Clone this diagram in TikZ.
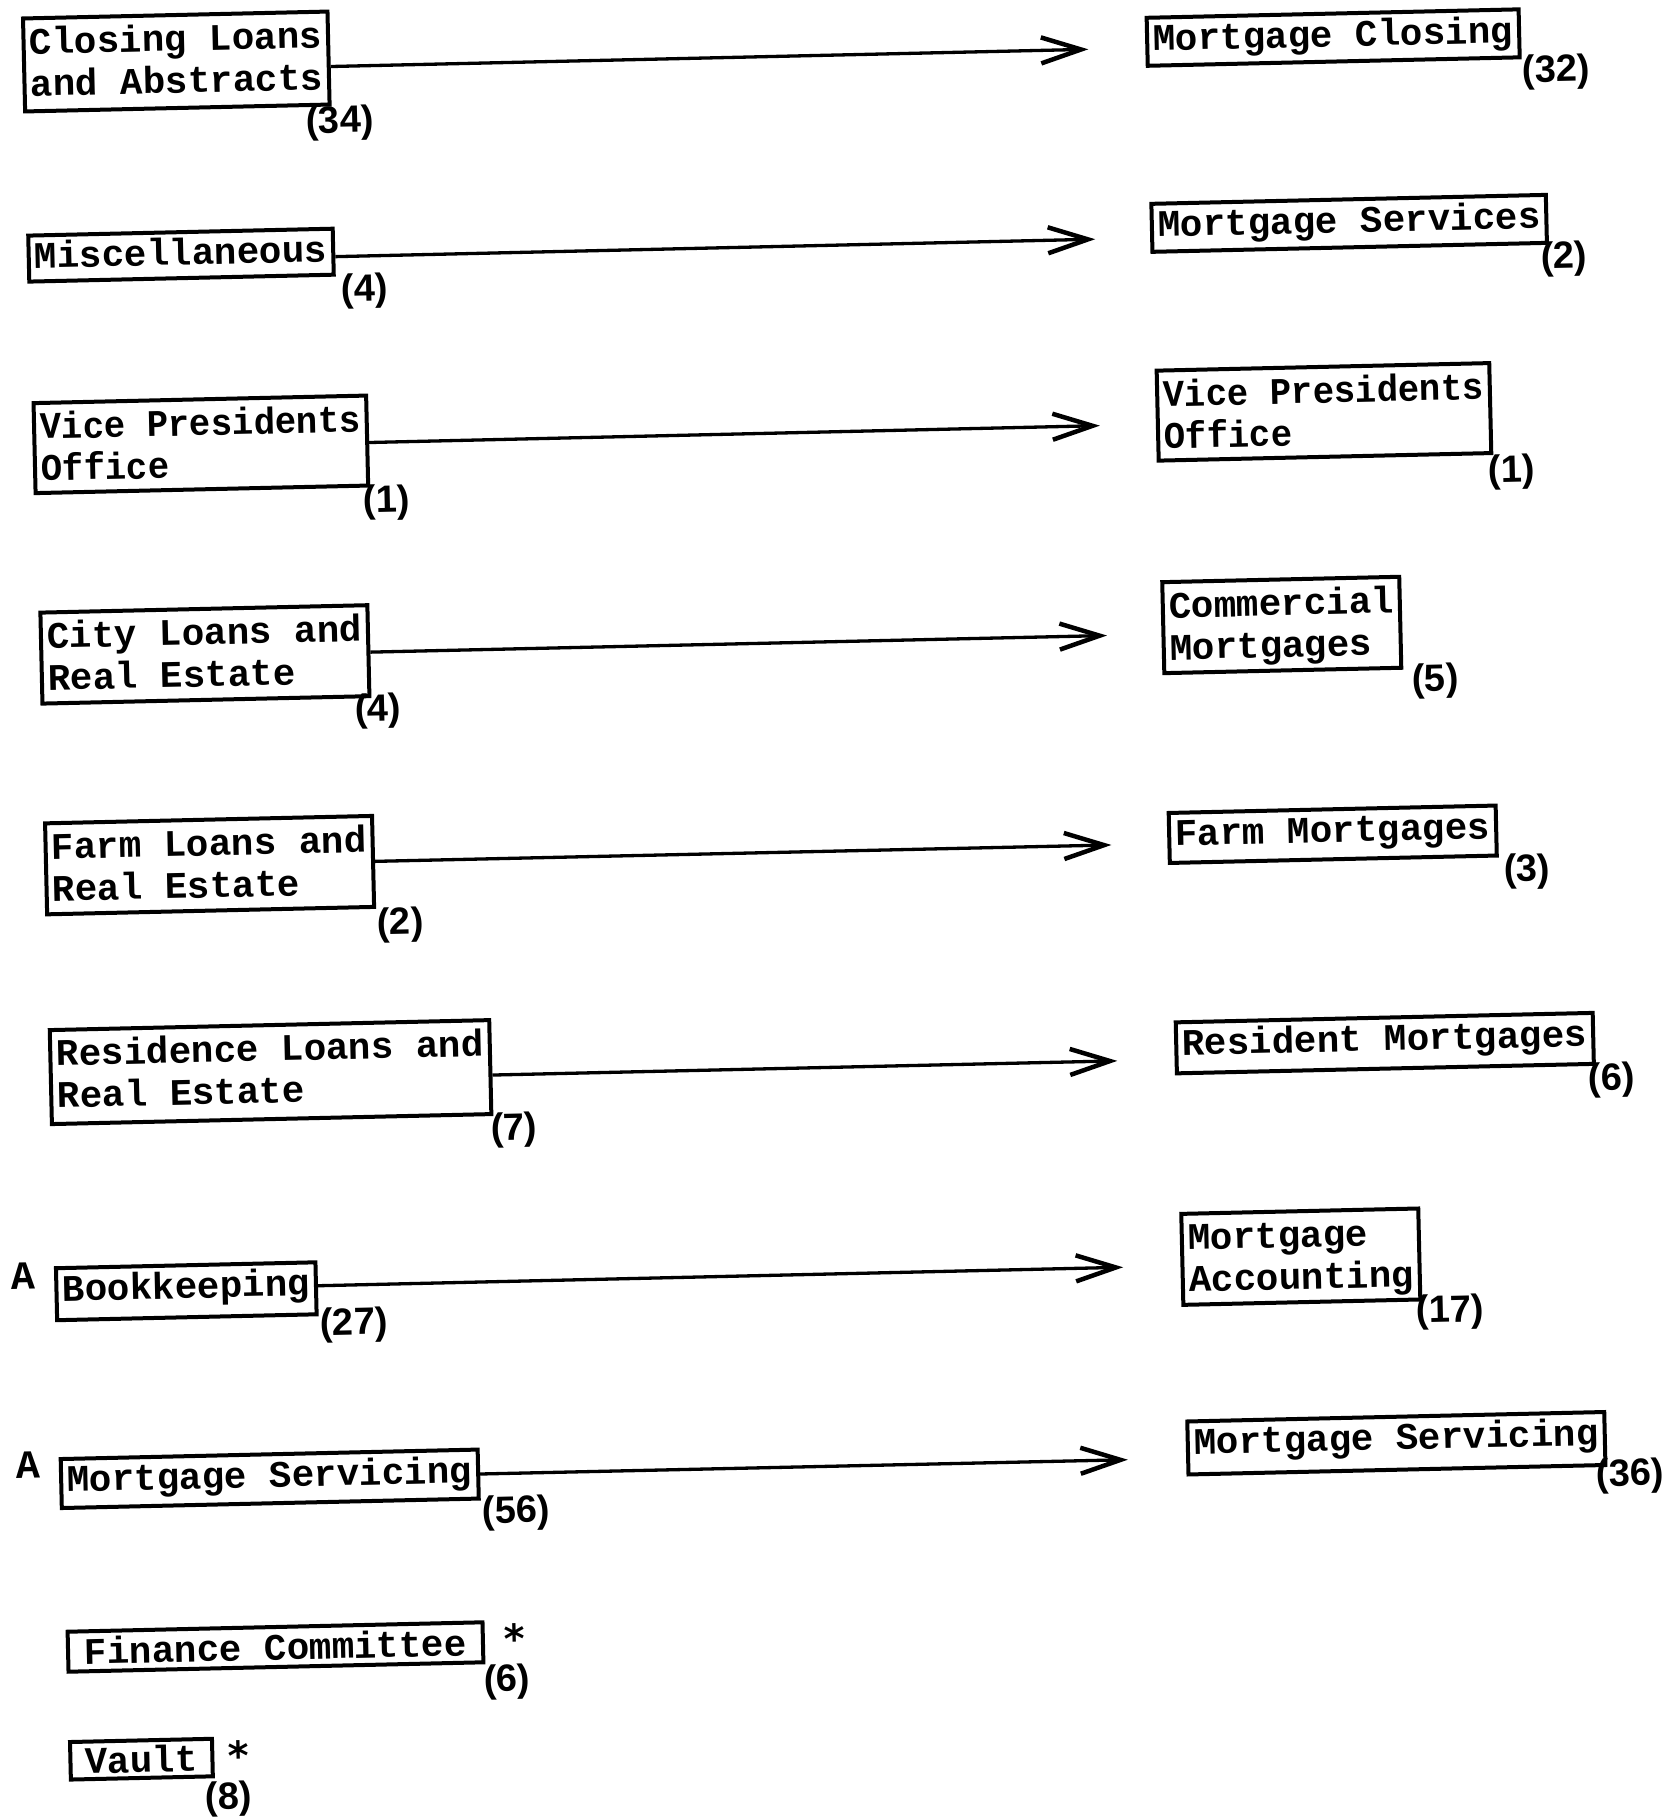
\documentclass[tikz,border=0pt]{standalone}
\usepackage{fontspec}
\usetikzlibrary{arrows.meta,calc}
\newfontfamily\twfont{Liberation Mono}
\newfontfamily\twnarrow{Liberation Mono}[FakeStretch=0.95]
\newfontfamily\numfont{Liberation Sans}
\newfontfamily\starfont{DejaVu Sans}
% struts that fix the inner height and depth of the typed boxes
\newcommand\upstr{\rule{0pt}{28pt}}
\newcommand\upstrb{\rule{0pt}{31pt}}
\newcommand\dnstr[1]{\rule[-#1pt]{0pt}{#1pt}}
% asterisk in a box as tall as the glyph itself
\newcommand\tightstar{\raisebox{-13pt}[17pt][0pt]{*}}

\tikzset{
  unitbox/.style={draw, line width=4pt,
    font=\twfont\bfseries\fontsize{37.5}{42}\selectfont,
    align=left, inner xsep=6pt, inner ysep=5pt, anchor=west},
  narrowbox/.style={unitbox, font=\twnarrow\bfseries\fontsize{37.5}{42}\selectfont},
  count/.style={font=\numfont\bfseries\fontsize{38}{40}\selectfont, inner sep=0pt},
  flagA/.style={font=\twfont\bfseries\fontsize{40}{42}\selectfont, inner sep=0pt},
  starsign/.style={font=\starfont\bfseries\fontsize{40}{42}\selectfont, inner sep=0pt, anchor=north},
  flow/.style={line width=3.3pt,
    -{Straight Barb[length=40pt,width=26pt,line width=4.5pt]}}
}

\begin{document}
\begin{tikzpicture}
\useasboundingbox (0,0) rectangle (1667pt,-1819pt);
\begin{scope}[x=1pt,y=-1pt,rotate=1.3,transform shape]

% left column: old units
\node[unitbox] (L1) at (20.6,65.5)  {\upstrb Closing Loans\\and Abstracts\dnstr{10}};
\node[unitbox] (L2) at (20.9,259.2) {\upstr Miscellaneous\dnstr{8}};
\node[narrowbox] (L3) at (22.4,448.8) {\upstrb Vice Presidents\\Office\dnstr{7}};
\node[unitbox] (L4) at (24.5,658.9) {\upstrb City Loans and\\Real Estate\dnstr{8}};
\node[unitbox] (L5) at (24.4,869.7) {\upstrb Farm Loans and\\Real Estate\dnstr{8}};
\node[unitbox] (L6) at (24.4,1078)  {\upstrb Residence Loans and\\Real Estate\dnstr{11}};
\node[unitbox] (L7) at (25.2,1295.2) {\upstr Bookkeeping\dnstr{14}};
\node[unitbox] (L8) at (25.6,1484.6) {\upstr Mortgage Servicing\dnstr{11}};
\node[unitbox, minimum width=415pt, align=center] (L9) at (28.6,1652.9) {\upstr Finance Committee\dnstr{2}};
\node[unitbox, minimum width=142pt, align=center] (L10) at (28.5,1762) {\rule{0pt}{26pt}Vault\dnstr{0}};

% right column: new units
\node[unitbox] (R1) at (1144,67.8)   {\upstr Mortgage Closing\dnstr{10}};
\node[unitbox] (R2) at (1144.5,253.9) {\upstr Mortgage Services\dnstr{10}};
\node[narrowbox] (R3) at (1146,441.8)  {\upstrb Vice Presidents\\Office\dnstr{7}};
\node[unitbox] (R4) at (1146.8,653.9) {\upstrb Commercial\\Mortgages\dnstr{8}};
\node[unitbox] (R5) at (1148,864.3)  {\upstr Farm Mortgages\dnstr{12}};
\node[unitbox] (R6) at (1150.3,1074.3) {\upstr Resident Mortgages\dnstr{13}};
\node[unitbox] (R7) at (1151.5,1285.9) {\upstrb Mortgage\\Accounting\dnstr{8}};
\node[unitbox] (R8) at (1152.8,1474.6) {\upstr Mortgage Servicing\dnstr{15}};

% staff counts
\node[count] (n34) at (337,130.7)   {(34)};
\node[count] (n32) at (1554,107.3)  {(32)};
\node[count] (n4a) at (357.7,299.5) {(4)};
\node[count] (n2a) at (1558,294.2)  {(2)};
\node[count] (n1a) at (374.9,511.1) {(1)};
\node[count] (n1b) at (1500.9,506.5) {(1)};
\node[count] (n4b) at (362,719.7)   {(4)};
\node[count] (n5)  at (1419.5,713.6) {(5)};
\node[count] (n2b) at (379.2,933.7) {(2)};
\node[count] (n3)  at (1507,905.9)  {(3)};
\node[count] (n7)  at (488.3,1141.7) {(7)};
\node[count] (n6a) at (1586.9,1116.6) {(6)};
\node[count] (n27) at (323.7,1332.8) {(27)};
\node[count] (n17) at (1420.2,1345) {(17)};
\node[count] (n56) at (481.9,1524.5) {(56)};
\node[count] (n36) at (1596.5,1512.6) {(36)};
\node[count] (n6b) at (468.9,1693)  {(6)};
\node[count] (n8)  at (187.7,1804)  {(8)};

% side marks
\node[flagA] (A1) at (-5.8,1276.5) {A};
\node[flagA] (A2) at (-5.5,1465.8) {A};
\node[starsign] (s1) at (477,1634) {\tightstar};
\node[starsign] (s2) at (199,1745) {\tightstar};

% transfer arrows
\coordinate (t1) at (1087,74);
\coordinate (t2) at (1089.6,264);
\coordinate (t3) at (1090,450.5);
\coordinate (t4) at (1092.3,660.5);
\coordinate (t5) at (1092,870);
\coordinate (t6) at (1093,1086);
\coordinate (t7) at (1094.2,1292.5);
\coordinate (t8) at (1094.5,1485);
\draw[flow] ($(L1.east)+(0,8.5)$) -- (t1);
\draw[flow] ($(L2.east)+(0,5)$) -- (t2);
\draw[flow] ($(L3.east)+(0,2)$) -- (t3);
\draw[flow] ($(L4.east)+(0,1.5)$) -- (t4);
\draw[flow] (L5.east) -- (t5);
\draw[flow] ($(L6.east)+(0,8)$) -- (t6);
\draw[flow] ($(L7.east)+(0,-2.5)$) -- (t7);
\draw[flow] (L8.east) -- (t8);

\end{scope}
\end{tikzpicture}
\end{document}
